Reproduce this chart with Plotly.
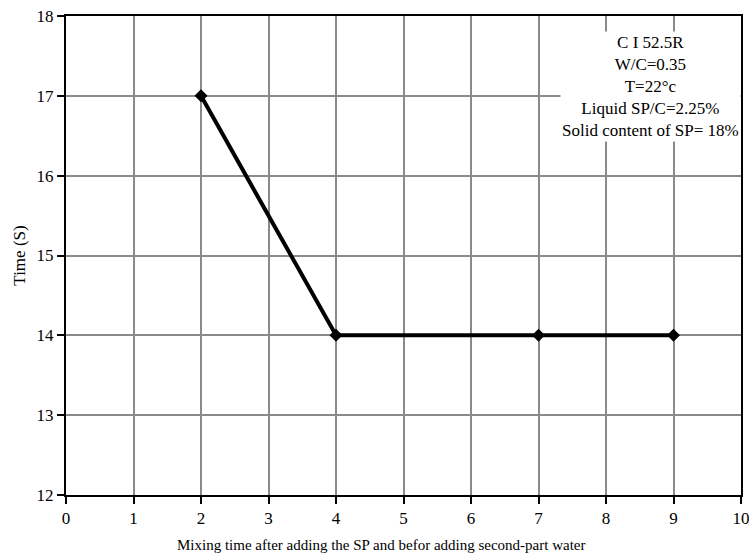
import plotly.graph_objects as go

x_vals = [2, 4, 7, 9]
y_vals = [17, 14, 14, 14]
x_ticks = list(range(0, 11))
y_ticks = list(range(12, 19))
info_lines = ["C I 52.5R", "W/C=0.35", "T=22°c", "Liquid SP/C=2.25%", "Solid content of SP= 18%"]
x_title = "Mixing time after adding the SP and befor adding second-part water"
y_title = "Time (S)"

font_fam = "Liberation Serif, Times New Roman, serif"

fig = go.Figure()
fig.add_trace(go.Scatter(
    x=x_vals, y=y_vals, mode="lines+markers",
    line=dict(color="black", width=4),
    marker=dict(symbol="diamond", size=10, color="black"),
    showlegend=False,
))

fig.add_annotation(
    x=0.866, y=0.968, xref="paper", yref="paper",
    text="<br>".join(info_lines), showarrow=False,
    align="center", xanchor="center", yanchor="top",
    font=dict(family=font_fam, size=17, color="black"),
    bgcolor="white",
)

fig.add_annotation(
    x=0.468, y=-0.104, xref="paper", yref="paper",
    text=x_title, showarrow=False, xanchor="center", yanchor="middle",
    font=dict(family=font_fam, size=15, color="black"),
)

axis_common = dict(
    showline=True, linecolor="black", linewidth=2, mirror=True,
    showgrid=True, gridcolor="#8a8a8a", gridwidth=2,
    ticks="outside", ticklen=7, tickwidth=2, tickcolor="black",
    zeroline=False, automargin=False, ticklabeloverflow="allow",
    tickfont=dict(family=font_fam, size=17, color="black"),
)

fig.update_xaxes(range=[0, 10], tickvals=x_ticks, **axis_common)
fig.update_yaxes(range=[12, 18], tickvals=y_ticks,
                 title=dict(text=y_title, font=dict(family=font_fam, size=17, color="black"), standoff=7),
                 **axis_common)

fig.update_layout(
    width=749, height=556,
    margin=dict(l=66, r=8, t=16, b=61),
    plot_bgcolor="white", paper_bgcolor="white",
)

fig.write_html(
    "out.html",
    config={"displayModeBar": False},
    post_script="document.body.style.margin='0';document.body.style.overflow='hidden';",
)
